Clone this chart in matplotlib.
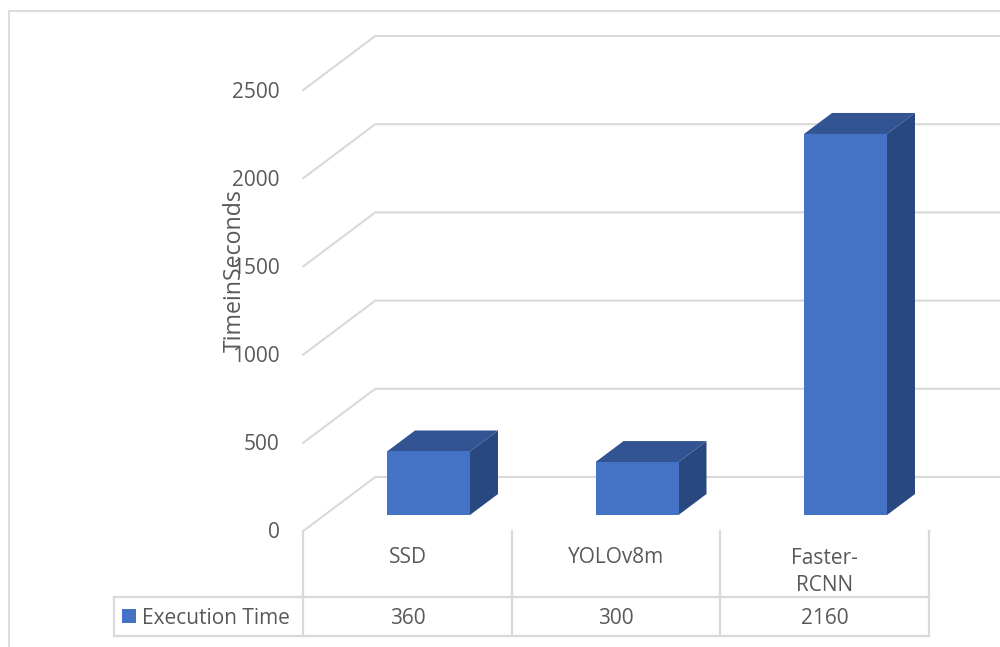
import matplotlib
matplotlib.use("Agg")
import matplotlib.pyplot as plt
from matplotlib.patches import Polygon, Rectangle
from matplotlib.transforms import Affine2D, blended_transform_factory

categories = ["SSD", "YOLOv8m", "Faster-\nRCNN"]
execution_time = [360, 300, 2160]
value_ticks = [0, 500, 1000, 1500, 2000, 2500]
series_name = "Execution Time"
axis_title = "TimeinSeconds"

W, H = 1000, 647
TEXT = "#595959"
GRID = "#d9d9d9"
FRONT, TOP, SIDE = "#4472c4", "#325492", "#2a4880"
FONT = "Open Sans"
FS = 15

# Scale of the front plane, in pixels per category and per unit of value
PX_CAT, PX_VAL = 208.5, 0.1764
X0, Y0 = 407.5, 531.0

fig = plt.figure(figsize=(W / 100, H / 100), dpi=100, facecolor="white")
ax = fig.add_axes([0, 0, 1, 1])
ax.set_xlim(-X0 / PX_CAT, (W - X0) / PX_CAT)
ax.set_ylim((Y0 - H) / PX_VAL, Y0 / PX_VAL)
ax.axis("off")

# Oblique projection offsets, converted to data units
def offset(dx_px, dy_px):
    return dx_px / PX_CAT, dy_px / PX_VAL

wall_dx, wall_dy = offset(72, 54)
left_edge = -0.5
right_end = (W - X0) / PX_CAT

# Side wall and back wall gridlines
for v in value_ticks:
    ax.plot([left_edge, left_edge + wall_dx, right_end],
            [v, v + wall_dy, v + wall_dy],
            color=GRID, lw=1.5, solid_joinstyle="miter", zorder=1)
    ax.annotate(str(v), xy=(left_edge, v), xytext=(-23.5, -2), textcoords="offset pixels",
                ha="right", va="center", color=TEXT, fontsize=FS, family=FONT, zorder=5)

# Boxes: front face, top face, right face
bar_w = 83 / PX_CAT
base_dx, base_dy = offset(21, 16)
depth_dx, depth_dy = offset(28, 21)
for i, val in enumerate(execution_time):
    l = i - bar_w / 2 + base_dx
    r = i + bar_w / 2 + base_dx
    b = base_dy
    t = base_dy + val
    ax.add_patch(Polygon([(l, t), (r, t), (r + depth_dx, t + depth_dy), (l + depth_dx, t + depth_dy)],
                         closed=True, fc=TOP, ec="none", zorder=3))
    ax.add_patch(Polygon([(r, b), (r + depth_dx, b + depth_dy), (r + depth_dx, t + depth_dy), (r, t)],
                         closed=True, fc=SIDE, ec="none", zorder=3))
    ax.add_patch(Polygon([(l, b), (r, b), (r, t), (l, t)],
                         closed=True, fc=FRONT, ec="none", zorder=4))

# Overlay in pixel coordinates with the origin at the top left
px = Affine2D().scale(1 / W, -1 / H).translate(0, 1) + fig.transFigure
line_kw = dict(color=GRID, lw=1.6, transform=px, clip_on=False, zorder=2)

# Outer chart frame, running off the top right and bottom
ax.plot([9, 9, W], [H, 11, 11], color="#dcdcdc", lw=1.5, transform=px, clip_on=False, zorder=1)

# Data table under the plot
TABLE_TOP, TABLE_BOTTOM, TABLE_LEFT = 597, 636, 114
cell_edges = [X0 + (i - 0.5) * PX_CAT for i in range(len(categories) + 1)]
ax.plot([TABLE_LEFT, cell_edges[-1]], [TABLE_TOP, TABLE_TOP], **line_kw)
ax.plot([TABLE_LEFT, cell_edges[-1]], [TABLE_BOTTOM, TABLE_BOTTOM], **line_kw)
ax.plot([TABLE_LEFT, TABLE_LEFT], [TABLE_TOP, TABLE_BOTTOM], **line_kw)
for xe in cell_edges:
    ax.plot([xe, xe], [531, TABLE_BOTTOM], **line_kw)

cat_y = blended_transform_factory(ax.transData, px)
for i, (name, val) in enumerate(zip(categories, execution_time)):
    if "\n" in name:
        ax.text(i, 572, name, transform=cat_y, ha="center", va="center", color=TEXT,
                fontsize=FS, family=FONT, linespacing=1.42)
    else:
        ax.text(i, 557.5, name, transform=cat_y, ha="center", va="center", color=TEXT,
                fontsize=FS, family=FONT)
    ax.text(i, 618.5, str(val), transform=cat_y, ha="center", va="center", color=TEXT,
            fontsize=FS, family=FONT)

ax.add_patch(Rectangle((122, 609), 14, 14, transform=px, fc=FRONT, ec="none", clip_on=False))
ax.text(142, 618, series_name, transform=px, ha="left", va="center", color=TEXT,
        fontsize=FS, family=FONT)

# Axis title, overlapping the tick labels
ax.text(234.5, 271, axis_title, transform=px, rotation=90, ha="center", va="center",
        color=TEXT, fontsize=16.7, family=FONT, zorder=6)

fig.savefig("out.png", dpi=100, facecolor="white")
